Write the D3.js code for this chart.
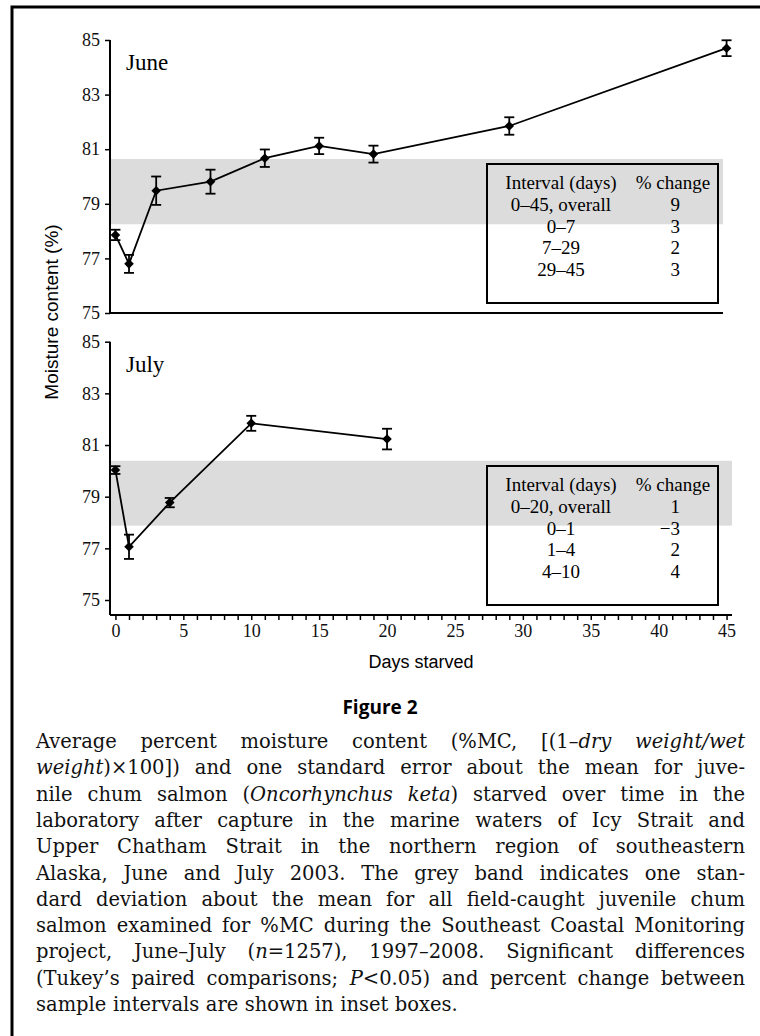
<!doctype html>
<html>
<head>
  <meta charset="utf-8">
  <title>Moisture content of starved juvenile chum salmon</title>
  <style>
    body { margin: 0; background: #fff; }
    svg { display: block; }
    .tick text { font-family: "Liberation Serif", serif; font-size: 18px; fill: #111; }
  </style>
</head>
<body>
  <div id="vis"></div>
  <script src="https://cdn.jsdelivr.net/npm/d3@7"></script>
  <script>
    // values
    var juneDays = [0, 1, 3, 7, 11, 15, 19, 29, 45];
    var juneMean = [77.86, 76.80, 79.48, 79.81, 80.67, 81.12, 80.82, 81.85, 84.70];
    var juneSE   = [0.19, 0.33, 0.52, 0.44, 0.32, 0.30, 0.31, 0.32, 0.29];

    var julyDays = [0, 1, 4, 10, 20];
    var julyMean = [80.03, 77.06, 78.77, 81.84, 81.23];
    var julySE   = [0.15, 0.47, 0.18, 0.29, 0.40];

    // field-caught mean +/- 1 SD (grey band)
    var juneBand = [78.25, 80.64];
    var julyBand = [77.88, 80.39];

    var yTicks = [75, 77, 79, 81, 83, 85];
    var xTicks = [0, 5, 10, 15, 20, 25, 30, 35, 40, 45];
    var xMinorTicks = d3.range(0, 46);

    var tableHeader = ["Interval (days)", "% change"];
    var juneIntervals = ["0\u201345, overall", "0\u20137", "7\u201329", "29\u201345"];
    var juneChange = ["9", "3", "2", "3"];
    var julyIntervals = ["0\u201320, overall", "0\u20131", "1\u20134", "4\u201310"];
    var julyChange = ["1", "\u22123", "2", "4"];

    // caption lines; _ toggles italics
    var captionTitle = "Figure 2";
    var captionLines = [
      "Average percent moisture content (%MC, [(1\u2013_dry weight/wet_",
      "_weight_)\u00d7100]) and one standard error about the mean for juve-",
      "nile chum salmon (_Oncorhynchus keta_) starved over time in the",
      "laboratory after capture in the marine waters of Icy Strait and",
      "Upper Chatham Strait in the northern region of southeastern",
      "Alaska, June and July 2003. The grey band indicates one stan-",
      "dard deviation about the mean for all field-caught juvenile chum",
      "salmon examined for %MC during the Southeast Coastal Monitoring",
      "project, June\u2013July (_n_=1257), 1997\u20132008. Significant differences",
      "(Tukey\u2019s paired comparisons; _P_<0.05) and percent change between",
      "sample intervals are shown in inset boxes."
    ];

    var w = 760, h = 1036;
    var serif = "'Liberation Serif', 'Times New Roman', serif";
    var sans = "'Liberation Sans', Arial, sans-serif";

    var svg = d3.select("#vis").append("svg")
      .attr("width", w)
      .attr("height", h);

    // outer frame (runs off the right and bottom)
    svg.append("rect")
      .attr("x", 12).attr("y", 7)
      .attr("width", 800).attr("height", 1100)
      .attr("fill", "none")
      .attr("stroke", "#000")
      .attr("stroke-width", 3);

    var x = d3.scaleLinear().domain([-0.4, 45.4]).range([110, 732]);
    var yTop = d3.scaleLinear().domain([75, 85]).range([313, 40]);
    var yBot = d3.scaleLinear().domain([75, 85]).range([600, 341.7]);

    function panel(y, days, mean, se, band, intervals, change, label, opts) {
      var g = svg.append("g");
      var data = days.map(function(d, i) {
        return { day: d, mean: mean[i], se: se[i] };
      });

      g.append("rect")
        .attr("x", x.range()[0])
        .attr("width", opts.bandEnd - x.range()[0])
        .attr("y", y(band[1]))
        .attr("height", y(band[0]) - y(band[1]))
        .attr("fill", "#dcdcdc");

      // y axis
      var yAxis = d3.axisLeft(y).tickValues(yTicks).tickSize(5).tickPadding(5).tickSizeOuter(0);
      g.append("g")
        .attr("transform", "translate(" + x.range()[0] + ",0)")
        .call(yAxis)
        .call(function(a) {
          a.select(".domain").remove();
          a.selectAll("line").attr("stroke-width", 1.5);
        });
      g.append("line")
        .attr("x1", x.range()[0]).attr("x2", x.range()[0])
        .attr("y1", y(85)).attr("y2", opts.axisBottom)
        .attr("stroke", "#000").attr("stroke-width", 2);
      g.append("line")
        .attr("x1", x.range()[0]).attr("x2", opts.baseEnd)
        .attr("y1", opts.axisBottom).attr("y2", opts.axisBottom)
        .attr("stroke", "#000").attr("stroke-width", 2);

      // inset table
      var box = g.append("g").attr("transform", "translate(487," + opts.boxY + ")");
      box.append("rect")
        .attr("width", 231).attr("height", 139)
        .attr("fill", "none").attr("stroke", "#000").attr("stroke-width", 2);
      var rows = [[tableHeader[0], tableHeader[1]]].concat(intervals.map(function(d, i) {
        return [d, change[i]];
      }));
      rows.forEach(function(r, i) {
        box.append("text")
          .attr("x", 74).attr("y", 25 + i * 21.8)
          .attr("text-anchor", "middle")
          .attr("font-family", serif).attr("font-size", 19)
          .text(r[0]);
        box.append("text")
          .attr("x", i === 0 ? 186 : 193).attr("y", 25 + i * 21.8)
          .attr("text-anchor", i === 0 ? "middle" : "end")
          .attr("font-family", serif).attr("font-size", 19)
          .text(r[1]);
      });

      // series line
      var line = d3.line()
        .x(function(d) { return x(d.day); })
        .y(function(d) { return y(d.mean); });
      g.append("path")
        .datum(data)
        .attr("d", line)
        .attr("fill", "none")
        .attr("stroke", "#000")
        .attr("stroke-width", 1.8);

      // error bars
      var eb = g.selectAll(".eb").data(data).enter().append("g");
      eb.append("line")
        .attr("x1", function(d) { return x(d.day); })
        .attr("x2", function(d) { return x(d.day); })
        .attr("y1", function(d) { return y(d.mean + d.se); })
        .attr("y2", function(d) { return y(d.mean - d.se); })
        .attr("stroke", "#000").attr("stroke-width", 1.8);
      [1, -1].forEach(function(s) {
        eb.append("line")
          .attr("x1", function(d) { return x(d.day) - 5; })
          .attr("x2", function(d) { return x(d.day) + 5; })
          .attr("y1", function(d) { return y(d.mean + s * d.se); })
          .attr("y2", function(d) { return y(d.mean + s * d.se); })
          .attr("stroke", "#000").attr("stroke-width", 1.8);
      });

      // diamond markers
      g.selectAll(".pt").data(data).enter().append("path")
        .attr("d", d3.symbol(d3.symbolSquare, 46))
        .attr("transform", function(d) {
          return "translate(" + x(d.day) + "," + y(d.mean) + ") rotate(45)";
        })
        .attr("fill", "#000");

      g.append("text")
        .attr("x", 126).attr("y", opts.labelY)
        .attr("font-family", serif).attr("font-size", 23)
        .text(label);
      return g;
    }

    panel(yTop, juneDays, juneMean, juneSE, juneBand, juneIntervals, juneChange, "June",
      { bandEnd: 723, baseEnd: 723, axisBottom: 313, boxY: 164, labelY: 70 });
    panel(yBot, julyDays, julyMean, julySE, julyBand, julyIntervals, julyChange, "July",
      { bandEnd: 732, baseEnd: 732, axisBottom: 615, boxY: 466, labelY: 372 });

    // x axis (July panel)
    var xAxis = d3.axisBottom(x)
      .tickValues(xMinorTicks)
      .tickSize(5).tickPadding(4).tickSizeOuter(0)
      .tickFormat(function(d) { return xTicks.indexOf(d) >= 0 ? d : ""; });
    svg.append("g")
      .attr("transform", "translate(0,615)")
      .call(xAxis)
      .call(function(a) {
        a.select(".domain").remove();
        a.selectAll("line").attr("stroke-width", 1.5);
      });

    svg.append("text")
      .attr("transform", "translate(58,312) rotate(-90)")
      .attr("text-anchor", "middle")
      .attr("font-family", sans).attr("font-size", 19)
      .text("Moisture content (%)");

    svg.append("text")
      .attr("x", 421).attr("y", 668)
      .attr("text-anchor", "middle")
      .attr("font-family", sans).attr("font-size", 18)
      .text("Days starved");

    svg.append("text")
      .attr("x", 380).attr("y", 714)
      .attr("text-anchor", "middle")
      .attr("font-family", "'Open Sans', 'Noto Sans', sans-serif")
      .attr("font-weight", 700).attr("font-size", 19)
      .text(captionTitle);

    // justified caption, word by word
    var capLeft = 36, capRight = 745, capTop = 748, capStep = 26.3;
    captionLines.forEach(function(ln, li) {
      var italic = false;
      var words = ln.split(" ").map(function(wd) {
        var parts = [];
        wd.split("_").forEach(function(p, pi) {
          if (pi > 0) italic = !italic;
          if (p.length) parts.push({ t: p, it: italic });
        });
        return parts;
      });
      var nodes = words.map(function(parts) {
        var t = svg.append("text")
          .attr("y", capTop + li * capStep)
          .attr("font-family", "'DejaVu Serif', serif")
          .attr("font-size", 19.5)
          .attr("fill", "#111");
        parts.forEach(function(p) {
          t.append("tspan").attr("font-style", p.it ? "italic" : "normal").text(p.t);
        });
        return t;
      });
      var widths = nodes.map(function(t) { return t.node().getComputedTextLength(); });
      var total = d3.sum(widths);
      var last = li === captionLines.length - 1;
      var gap = last ? 6.5 : (capRight - capLeft - total) / (nodes.length - 1);
      var cx = capLeft;
      nodes.forEach(function(t, i) {
        t.attr("x", cx);
        cx += widths[i] + gap;
      });
    });
  </script>
</body>
</html>
